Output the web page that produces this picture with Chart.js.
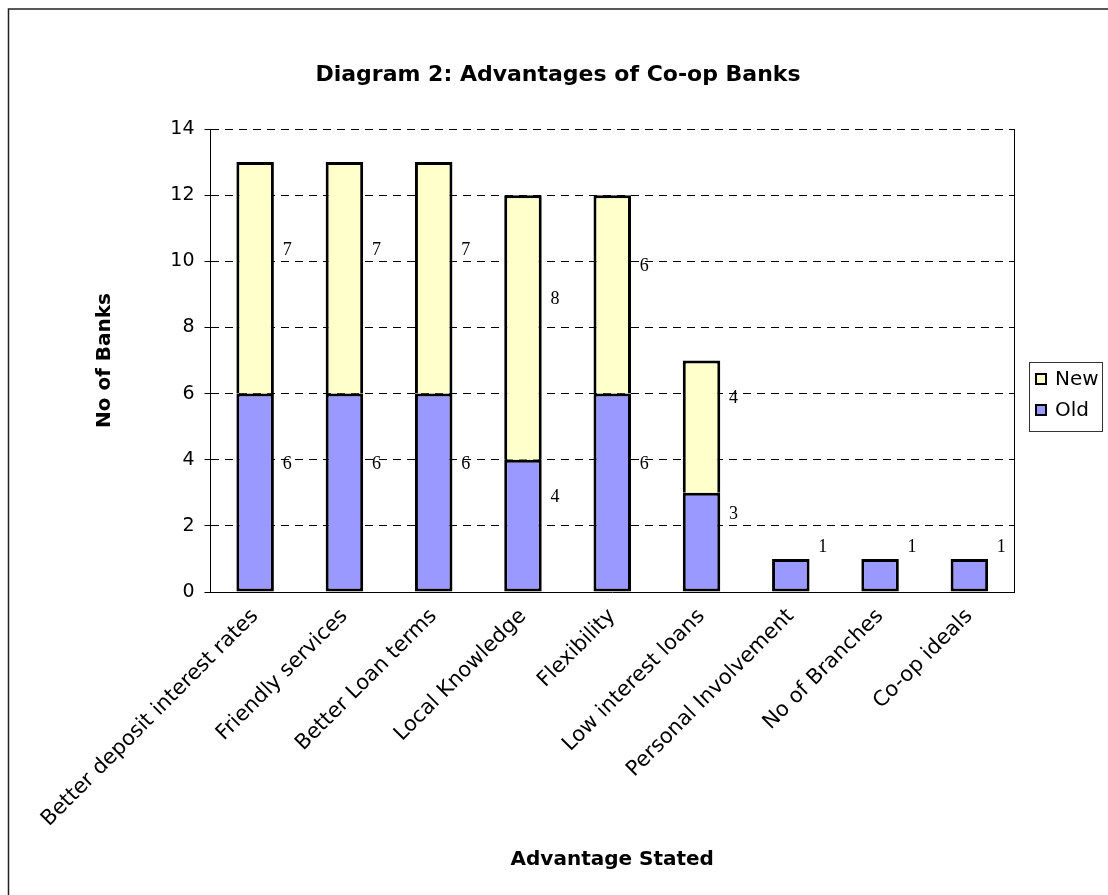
<!DOCTYPE html>
<html>
<head>
<meta charset="utf-8">
<script src="https://cdn.jsdelivr.net/npm/chart.js@4.4.1/dist/chart.umd.min.js"></script>
<style>
  html, body { margin: 0; padding: 0; background: #fff; }
  #wrap { width: 1108px; height: 895px; position: relative; }
</style>
</head>
<body>
<div id="wrap"><canvas id="chart"></canvas></div>
<script>
const categories = [
  'Better deposit interest rates', 'Friendly services', 'Better Loan terms',
  'Local Knowledge', 'Flexibility', 'Low interest loans',
  'Personal Involvement', 'No of Branches', 'Co-op ideals'
];
const oldBanks = [6, 6, 6, 4, 6, 3, 1, 1, 1];
const newBanks = [7, 7, 7, 8, 6, 4, null, null, null];
const yTickValues = [0, 2, 4, 6, 8, 10, 12, 14];

const SANS = '"DejaVu Sans", sans-serif';

// frame, plot edge, title and legend drawn by hand to get Excel's look
const extras = {
  id: 'extras',
  afterDraw(chart) {
    const { ctx, chartArea: area, width } = chart;
    ctx.save();
    // outer chart frame (only left & top visible in the picture)
    ctx.strokeStyle = '#222';
    ctx.lineWidth = 1.5;
    ctx.strokeRect(8.5, 9, 3000, 3000);
    // right edge of plot area
    ctx.strokeStyle = '#000';
    ctx.lineWidth = 1;
    ctx.beginPath();
    ctx.moveTo(Math.round(area.right) + 0.5, area.top);
    ctx.lineTo(Math.round(area.right) + 0.5, area.bottom);
    ctx.stroke();
    // title
    ctx.fillStyle = '#000';
    ctx.font = 'bold 22px ' + SANS;
    ctx.textAlign = 'center';
    ctx.textBaseline = 'middle';
    ctx.fillText('Diagram 2: Advantages of Co-op Banks', (8 + width) / 2, 75);
    // legend (reversed order, New on top)
    const lx = 1029.5, ly = 362.5;
    ctx.strokeStyle = '#333';
    ctx.lineWidth = 1;
    ctx.strokeRect(lx, ly, 73, 69);
    const items = chart.data.datasets.slice().reverse();
    ctx.font = '20px ' + SANS;
    ctx.textAlign = 'left';
    items.forEach((ds, i) => {
      const cy = 379 + i * 31;
      ctx.fillStyle = ds.backgroundColor;
      ctx.fillRect(1036, cy - 5, 10, 10);
      ctx.strokeStyle = '#000';
      ctx.lineWidth = 2;
      ctx.strokeRect(1036, cy - 5, 10, 10);
      ctx.fillStyle = '#000';
      ctx.fillText(ds.label, 1055, cy + 1);
    });
    ctx.restore();
  }
};

// value labels to the right of each bar segment
const valueLabels = {
  id: 'valueLabels',
  afterDatasetsDraw(chart) {
    const { ctx } = chart;
    ctx.save();
    ctx.font = '18px "Liberation Serif", "Times New Roman", serif';
    ctx.fillStyle = '#000';
    ctx.textAlign = 'center';
    ctx.textBaseline = 'middle';
    chart.data.datasets.forEach((ds, i) => {
      chart.getDatasetMeta(i).data.forEach((bar, j) => {
        const v = ds.data[j];
        if (!v) return;
        const mid = (bar.y + bar.base) / 2;
        ctx.fillText(String(v), bar.x + 32, mid - 28);
      });
    });
    ctx.restore();
  }
};

new Chart(document.getElementById('chart'), {
  type: 'bar',
  data: {
    labels: categories,
    datasets: [
      {
        label: 'Old',
        data: oldBanks,
        backgroundColor: '#9999FF',
        borderColor: '#000',
        borderWidth: 3,
        borderSkipped: false
      },
      {
        label: 'New',
        data: newBanks,
        backgroundColor: '#FFFFCC',
        borderColor: '#000',
        borderWidth: 3,
        borderSkipped: 'start'
      }
    ]
  },
  options: {
    responsive: true,
    maintainAspectRatio: false,
    devicePixelRatio: 1,
    animation: false,
    categoryPercentage: 1,
    barPercentage: 0.42,
    layout: { padding: { top: 129, left: 8, right: 94, bottom: 0 } },
    plugins: {
      legend: { display: false },
      tooltip: { enabled: false },
      title: { display: false }
    },
    scales: {
      x: {
        stacked: true,
        afterFit: (scale) => { scale.height = 303; },
        grid: { display: false },
        border: { display: true, color: '#000', width: 1 },
        ticks: {
          color: '#000',
          font: { family: SANS, size: 21 },
          minRotation: 45,
          maxRotation: 45,
          autoSkip: false,
          padding: 4
        },
        title: {
          display: true,
          text: 'Advantage Stated',
          color: '#000',
          font: { family: SANS, size: 20, weight: 'bold' },
          padding: { top: 0, bottom: 23 }
        }
      },
      y: {
        stacked: true,
        min: 0,
        max: 14,
        afterFit: (scale) => { scale.width = 202.5; },
        afterBuildTicks: (scale) => { scale.ticks = yTickValues.map(v => ({ value: v })); },
        grid: {
          color: '#000',
          lineWidth: 1,
          tickLength: 6,
          tickColor: '#000',
          tickWidth: 1
        },
        border: { display: true, color: '#000', width: 1, dash: [8, 6] },
        ticks: {
          color: '#000',
          font: { family: SANS, size: 19 },
          padding: 10
        },
        title: {
          display: true,
          text: 'No of Banks',
          color: '#000',
          font: { family: SANS, size: 20, weight: 'bold' },
          padding: { top: 85, bottom: 0 }
        }
      }
    }
  },
  plugins: [valueLabels, extras]
});
</script>
</body>
</html>
